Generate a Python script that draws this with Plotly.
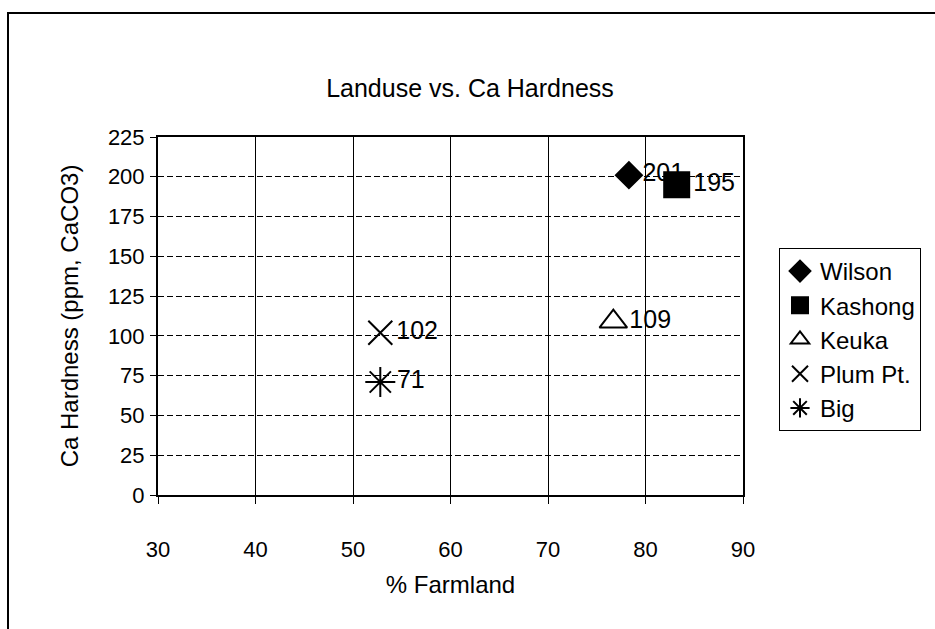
import plotly.graph_objects as go

# Data
series_names = ["Wilson", "Kashong", "Keuka", "Plum Pt.", "Big"]
farmland_pct = [78.3, 83.2, 76.7, 52.8, 52.8]
ca_hardness = [201, 195, 109, 102, 71]
label_text = ["201", "195", "109", "102", "71"]
marker_symbols = ["diamond", "square", "triangle-up-open", "x-thin-open", "asterisk-open"]
marker_sizes = [20, 25, 24, 24, 25]

x_ticks = [30, 40, 50, 60, 70, 80, 90]
y_ticks = [0, 25, 50, 75, 100, 125, 150, 175, 200, 225]

FONT = "Liberation Sans, Arial, sans-serif"

W, H = 935, 629
L, R, T, B = 158, 192, 137, 134
pw, ph = W - L - R, H - T - B

fig = go.Figure()
for i, name in enumerate(series_names):
    fig.add_trace(go.Scatter(
        x=[farmland_pct[i]], y=[ca_hardness[i]],
        mode="markers+text",
        name=name,
        legendgroup=name,
        text=[label_text[i]],
        textposition="middle right",
        textfont=dict(family=FONT, size=25, color="black"),
        marker=dict(symbol=marker_symbols[i], size=marker_sizes[i], color="black",
                    line=dict(color="black", width=2)),
        cliponaxis=False,
    ))

def px_x(p):
    return (p - L) / pw

def px_y(p):
    return (H - B - p) / ph

# outer chart border
fig.add_shape(type="rect", xref="paper", yref="paper",
              x0=px_x(8), x1=px_x(945), y0=px_y(640), y1=px_y(13),
              line=dict(color="black", width=2), fillcolor="rgba(0,0,0,0)", layer="below")

fig.update_layout(
    width=W, height=H,
    margin=dict(l=L, r=R, t=T, b=B, autoexpand=False),
    paper_bgcolor="white", plot_bgcolor="white",
    font=dict(family=FONT, size=22, color="black"),
    title=dict(text="Landuse vs. Ca Hardness", x=470 / W, xanchor="center",
               y=1 - 88 / H, yanchor="middle", font=dict(size=25)),
    xaxis=dict(range=[30, 90], tickvals=x_ticks, showgrid=True, gridcolor="black", gridwidth=1,
               showline=True, linecolor="black", linewidth=2, mirror=True,
               ticks="outside", ticklen=7, tickcolor="black", tickwidth=1,
               ticklabelstandoff=27, zeroline=False, tickfont=dict(size=22),
               title=dict(text="% Farmland", standoff=15, font=dict(size=24))),
    yaxis=dict(range=[0, 225], tickvals=y_ticks, showgrid=True, gridcolor="black", gridwidth=1,
               griddash="6px,3px",
               showline=True, linecolor="black", linewidth=2, mirror=True,
               ticks="outside", ticklen=6, tickcolor="black", tickwidth=1,
               ticklabelstandoff=1, zeroline=False, tickfont=dict(size=22),
               title=dict(text="Ca Hardness (ppm, CaCO3)", standoff=22, font=dict(size=24))),
    legend=dict(x=px_x(779), y=px_y(248), xanchor="left", yanchor="top",
                bordercolor="black", borderwidth=1, bgcolor="white",
                font=dict(size=24), tracegroupgap=0, itemwidth=30),
    showlegend=True,
)

fig.write_html("out.html", config={"displayModeBar": False},
               post_script="document.body.style.margin='0';document.body.style.padding='0';")
